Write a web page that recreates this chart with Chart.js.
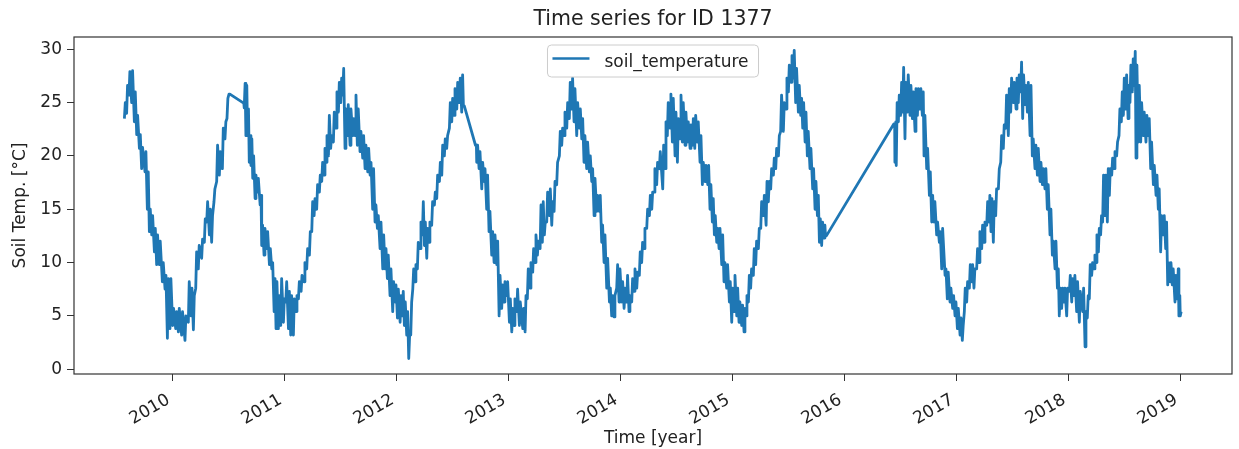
<!DOCTYPE html>
<html>
<head>
<meta charset="utf-8">
<title>Time series for ID 1377</title>
<script src="https://cdn.jsdelivr.net/npm/chart.js@4.4.1/dist/chart.umd.min.js"></script>
<style>
  html, body { margin: 0; padding: 0; background: #fff; }
</style>
</head>
<body>
<canvas id="soil" width="1239" height="449"></canvas>
<script>
// sample dates (decimal years) with the upper and lower edge of the noisy band
const sampleYears = [
  2009.570, 2009.590, 2009.611, 2009.635, 2009.659, 2009.680, 2009.704, 2009.724, 2009.754, 2009.775, 2009.793, 2009.814, 2009.838, 2009.858, 2009.882, 2009.909, 2009.933, 2009.954, 2009.977,
  2010.001, 2010.028, 2010.052, 2010.081, 2010.111, 2010.141, 2010.165, 2010.186, 2010.207, 2010.230, 2010.260, 2010.284, 2010.305, 2010.329, 2010.349, 2010.370, 2010.394, 2010.418, 2010.445, 2010.468, 2010.486, 2010.504,
  2010.628, 2010.640, 2010.655, 2010.670, 2010.685, 2010.700, 2010.716, 2010.737, 2010.758, 2010.782, 2010.796, 2010.817, 2010.841, 2010.865, 2010.886, 2010.907, 2010.924, 2010.945, 2010.966, 2010.990,
  2011.011, 2011.035, 2011.055, 2011.079, 2011.103, 2011.124, 2011.148, 2011.174, 2011.198, 2011.222, 2011.243, 2011.264, 2011.287, 2011.311, 2011.332, 2011.353, 2011.371, 2011.392, 2011.412, 2011.436, 2011.460, 2011.481, 2011.502,
  2011.520, 2011.540, 2011.561, 2011.585, 2011.609, 2011.630, 2011.650, 2011.674, 2011.698, 2011.719, 2011.743, 2011.764, 2011.787, 2011.808, 2011.829, 2011.853, 2011.877, 2011.898, 2011.918, 2011.942, 2011.966, 2011.987,
  2012.008, 2012.032, 2012.052, 2012.070, 2012.091, 2012.109, 2012.127, 2012.145, 2012.165, 2012.186, 2012.210, 2012.231, 2012.249, 2012.270, 2012.290, 2012.314, 2012.338, 2012.359, 2012.383, 2012.404, 2012.427, 2012.448,
  2012.472, 2012.493, 2012.514, 2012.538, 2012.561, 2012.582, 2012.597, 2012.705, 2012.716, 2012.737, 2012.761, 2012.782, 2012.805, 2012.826, 2012.850, 2012.871, 2012.895, 2012.916, 2012.939, 2012.960, 2012.984,
  2013.008, 2013.029, 2013.049, 2013.073, 2013.097, 2013.127, 2013.148, 2013.168, 2013.192, 2013.216, 2013.237, 2013.258, 2013.282, 2013.302, 2013.320, 2013.341, 2013.365, 2013.386, 2013.407, 2013.430, 2013.454, 2013.475,
  2013.496, 2013.520, 2013.543, 2013.564, 2013.585, 2013.609, 2013.633, 2013.654, 2013.674, 2013.698, 2013.722, 2013.743, 2013.764, 2013.787, 2013.811, 2013.832, 2013.853, 2013.877, 2013.901, 2013.921, 2013.942, 2013.966, 2013.987,
  2014.011, 2014.032, 2014.055, 2014.076, 2014.100, 2014.121, 2014.145, 2014.168, 2014.189, 2014.210, 2014.234, 2014.258, 2014.279, 2014.299, 2014.323, 2014.347, 2014.377, 2014.398, 2014.418, 2014.442, 2014.463, 2014.487,
  2014.508, 2014.532, 2014.552, 2014.576, 2014.597, 2014.621, 2014.642, 2014.663, 2014.686, 2014.710, 2014.731, 2014.755, 2014.779, 2014.799, 2014.820, 2014.838, 2014.859, 2014.880, 2014.904, 2014.924, 2014.948, 2014.972, 2014.993,
  2015.014, 2015.038, 2015.058, 2015.082, 2015.103, 2015.121, 2015.142, 2015.162, 2015.186, 2015.207, 2015.231, 2015.252, 2015.276, 2015.300, 2015.320, 2015.341, 2015.365, 2015.386, 2015.410, 2015.430,
  2015.454, 2015.478, 2015.499, 2015.523, 2015.543, 2015.564, 2015.588, 2015.609, 2015.627, 2015.648, 2015.668, 2015.692, 2015.716, 2015.737, 2015.758, 2015.776, 2015.796, 2015.817, 2015.830,
  2016.440, 2016.450, 2016.462, 2016.481, 2016.502, 2016.520, 2016.540, 2016.561, 2016.585, 2016.606, 2016.630, 2016.651, 2016.674, 2016.695, 2016.710,
  2016.734, 2016.758, 2016.779, 2016.799, 2016.823, 2016.847, 2016.868, 2016.898, 2016.918, 2016.942, 2016.966, 2016.987,
  2017.008, 2017.032, 2017.052, 2017.070, 2017.091, 2017.115, 2017.136, 2017.156, 2017.180, 2017.201, 2017.225, 2017.246, 2017.270, 2017.290, 2017.308, 2017.329, 2017.350, 2017.374, 2017.395, 2017.418, 2017.439, 2017.463, 2017.484,
  2017.508, 2017.532, 2017.552, 2017.573, 2017.591, 2017.612, 2017.633, 2017.657, 2017.677, 2017.701, 2017.722, 2017.746, 2017.767, 2017.790, 2017.811, 2017.835, 2017.856, 2017.880, 2017.901, 2017.918, 2017.939, 2017.960, 2017.984,
  2018.008, 2018.029, 2018.049, 2018.073, 2018.097, 2018.127, 2018.148, 2018.168, 2018.186, 2018.207, 2018.228, 2018.246, 2018.267, 2018.287, 2018.305, 2018.326, 2018.347, 2018.365, 2018.386, 2018.407, 2018.430, 2018.451, 2018.472, 2018.490,
  2018.511, 2018.532, 2018.549, 2018.570, 2018.588, 2018.603, 2018.624, 2018.645, 2018.668, 2018.692, 2018.713, 2018.734, 2018.758, 2018.782, 2018.802, 2018.823, 2018.847, 2018.868, 2018.886, 2018.907, 2018.927, 2018.951, 2018.972, 2018.986, 2018.998
];

const bandHigh = [
  25.0, 26.6, 27.9, 28.0, 26.0, 23.8, 22.0, 20.8, 20.4, 18.5, 15.0, 14.4, 13.2, 12.6, 12.0, 10.0, 8.8, 8.5, 8.5,
  5.7, 5.4, 5.7, 5.4, 5.0, 8.2, 7.6, 6.9, 11.0, 11.6, 12.2, 14.1, 15.7, 15.0, 14.4, 16.9, 21.0, 20.4, 22.6, 23.2, 25.4, 25.8,
  25.0, 26.8, 26.6, 24.4, 21.9, 21.6, 20.0, 18.2, 17.9, 16.3, 13.5, 13.2, 12.9, 11.3, 10.0, 8.5, 8.2, 6.9, 8.5, 6.6,
  8.2, 7.3, 6.9, 6.6, 6.9, 8.2, 8.8, 10.0, 11.3, 12.9, 15.7, 16.0, 17.3, 18.2, 19.4, 20.7, 21.9, 23.8, 21.9, 24.1, 26.0, 26.9, 27.3,
  28.2, 24.4, 24.8, 24.4, 23.5, 25.7, 24.4, 22.3, 21.9, 21.0, 20.7, 19.4, 18.8, 15.4, 14.4, 13.8, 12.6, 11.3, 10.7, 9.4, 8.2, 7.9,
  7.5, 6.9, 7.3, 6.3, 5.4, 3.2, 6.3, 9.4, 9.8, 11.9, 13.8, 15.7, 13.8, 13.2, 13.8, 15.7, 16.6, 18.2, 19.4, 21.0, 21.6, 21.9,
  25.0, 25.4, 26.3, 26.9, 27.3, 27.6, 24.7, 21.0, 21.0, 20.4, 19.4, 18.8, 18.2, 14.8, 12.9, 12.6, 12.0, 8.8, 7.9, 8.2, 8.2,
  6.6, 5.7, 6.6, 7.5, 6.3, 5.7, 6.9, 9.4, 10.0, 11.3, 12.6, 12.0, 15.4, 15.7, 13.8, 16.6, 16.9, 15.7, 17.6, 19.4, 22.3, 22.6,
  24.1, 25.0, 26.9, 27.3, 26.3, 25.0, 24.4, 23.5, 21.9, 21.3, 20.0, 18.8, 17.9, 16.3, 16.3, 13.5, 12.6, 10.4, 7.6, 6.9, 6.9, 9.8, 9.4,
  8.2, 7.6, 8.8, 6.9, 8.5, 9.4, 9.1, 11.0, 11.9, 13.2, 15.0, 16.3, 16.6, 18.8, 19.4, 20.4, 21.0, 23.2, 25.0, 25.8, 25.4, 24.1,
  23.5, 25.7, 25.0, 24.1, 23.2, 22.9, 23.5, 23.8, 23.2, 21.9, 19.4, 19.1, 19.1, 17.3, 16.0, 14.4, 13.2, 13.2, 12.6, 10.0, 9.8, 8.2, 7.6,
  8.8, 7.6, 6.3, 6.0, 5.7, 6.9, 8.8, 9.4, 11.3, 12.0, 13.2, 15.7, 16.3, 17.6, 17.6, 18.8, 19.8, 20.7, 21.9, 25.7,
  25.0, 27.3, 28.5, 29.4, 29.9, 28.2, 26.6, 25.4, 25.0, 24.1, 22.3, 20.7, 18.8, 17.6, 16.3, 14.1, 13.8, 13.5, 12.5,
  23.0, 23.2, 25.0, 25.7, 26.9, 28.3, 26.9, 27.6, 26.6, 26.0, 26.3, 26.3, 26.3, 26.0, 23.8,
  20.7, 18.5, 16.3, 15.7, 13.8, 12.9, 13.2, 9.4, 9.1, 7.6, 6.9, 6.3,
  5.7, 4.8, 4.1, 7.6, 8.2, 9.8, 9.8, 9.4, 11.3, 12.9, 13.5, 13.8, 15.7, 16.3, 16.0, 15.7, 16.9, 18.8, 21.9, 22.9, 25.7, 26.3, 27.3,
  26.9, 27.3, 27.6, 28.8, 27.6, 26.6, 26.9, 26.6, 21.6, 21.0, 20.7, 19.4, 18.8, 18.8, 17.3, 15.0, 12.0, 12.0, 9.4, 7.6, 7.6, 7.6, 7.6,
  8.8, 8.5, 8.8, 8.2, 7.3, 7.6, 5.4, 6.9, 9.8, 10.0, 10.7, 12.6, 13.2, 14.4, 18.2, 18.2, 18.8, 18.8, 19.8, 20.4, 21.3, 24.4, 26.0, 27.3,
  27.6, 26.6, 28.5, 29.1, 29.8, 28.5, 26.6, 25.0, 24.1, 23.8, 23.5, 21.3, 19.1, 18.2, 16.9, 14.4, 14.4, 13.8, 10.0, 10.0, 9.4, 8.8, 9.4, 6.9, 5.4
];

const bandLow = [
  23.5, 24.0, 25.7, 25.0, 23.2, 22.0, 20.7, 18.8, 18.5, 15.0, 12.9, 12.6, 11.0, 9.8, 9.8, 8.2, 7.5, 2.9, 3.8,
  4.1, 3.8, 3.5, 3.2, 2.7, 4.4, 5.0, 3.7, 7.6, 9.4, 10.4, 11.9, 13.8, 12.6, 11.9, 15.7, 17.6, 18.2, 18.8, 21.6, 23.5, 25.8,
  25.0, 24.5, 21.9, 21.9, 19.4, 19.1, 17.9, 16.0, 16.6, 15.4, 11.6, 10.7, 11.3, 9.8, 9.4, 5.4, 3.8, 3.8, 4.1, 4.4,
  6.3, 3.8, 3.2, 3.2, 5.4, 6.6, 7.3, 8.2, 9.4, 10.7, 12.9, 14.4, 15.0, 16.6, 17.6, 18.2, 19.4, 20.0, 20.7, 21.3, 22.6, 24.1, 25.0,
  25.7, 20.7, 21.9, 21.0, 21.9, 21.9, 21.0, 20.4, 19.8, 18.8, 18.5, 18.2, 15.0, 13.8, 13.2, 11.3, 9.4, 9.4, 8.5, 6.9, 5.4, 6.3,
  4.8, 4.4, 5.0, 4.1, 3.2, 1.0, 3.2, 7.5, 8.2, 9.4, 11.3, 12.6, 11.6, 10.4, 11.9, 13.5, 15.4, 16.0, 17.6, 18.2, 20.0, 20.7,
  22.6, 23.2, 23.8, 24.4, 25.0, 24.1, 24.7, 21.0, 19.4, 18.8, 16.9, 17.6, 15.0, 12.9, 10.7, 10.0, 9.8, 5.0, 5.7, 6.3, 6.9,
  4.4, 3.5, 4.1, 5.4, 4.1, 3.8, 3.5, 6.6, 7.6, 9.1, 10.0, 10.7, 11.3, 11.9, 12.6, 13.8, 14.4, 13.5, 14.8, 17.3, 20.0, 21.0,
  21.9, 22.6, 23.5, 24.4, 23.2, 21.9, 22.6, 21.6, 19.4, 18.8, 18.5, 17.6, 14.4, 14.8, 14.8, 11.9, 10.0, 7.6, 6.3, 5.0, 4.9, 7.6, 6.3,
  6.3, 5.7, 6.3, 5.4, 6.3, 7.3, 7.6, 8.8, 10.0, 11.3, 13.2, 14.4, 15.0, 16.6, 17.3, 18.8, 16.9, 18.8, 21.9, 22.6, 21.3, 20.0,
  19.4, 21.6, 21.3, 21.0, 21.3, 20.7, 21.0, 20.7, 21.3, 19.4, 17.3, 17.6, 17.3, 15.0, 13.8, 12.6, 11.9, 11.3, 9.8, 8.2, 7.6, 6.3, 4.4,
  5.4, 5.0, 4.4, 4.1, 3.5, 5.0, 6.3, 7.6, 8.8, 9.8, 11.3, 13.2, 14.4, 13.5, 15.7, 16.9, 18.2, 18.8, 20.0, 22.3,
  22.3, 24.4, 26.0, 26.9, 27.3, 25.0, 24.1, 23.8, 22.6, 21.3, 20.0, 18.8, 16.9, 15.0, 14.4, 11.9, 11.6, 12.3, 12.5,
  23.0, 19.4, 19.1, 23.2, 23.8, 24.1, 21.6, 24.1, 23.8, 23.5, 22.3, 23.8, 24.4, 23.8, 20.0,
  18.8, 16.3, 13.8, 13.8, 12.6, 11.9, 9.4, 8.8, 6.6, 6.3, 5.7, 5.0,
  3.8, 3.2, 2.7, 5.4, 6.3, 7.6, 8.2, 7.6, 9.4, 10.0, 11.3, 11.9, 13.5, 13.8, 12.9, 11.9, 14.4, 16.9, 19.4, 20.7, 22.6, 21.9, 24.1,
  25.0, 24.4, 25.0, 26.0, 23.5, 24.8, 24.1, 21.9, 20.0, 18.8, 18.2, 17.6, 17.3, 16.9, 15.0, 12.6, 10.7, 9.4, 7.6, 5.0, 5.7, 6.3, 5.0,
  7.3, 6.3, 6.9, 5.4, 4.4, 5.4, 2.1, 4.8, 6.6, 8.8, 9.4, 10.0, 11.0, 12.6, 13.8, 14.4, 13.8, 16.3, 18.2, 18.8, 20.0, 21.9, 23.2, 23.8,
  24.4, 23.5, 25.0, 26.0, 26.6, 19.8, 21.3, 21.3, 21.9, 21.3, 21.9, 18.8, 17.3, 16.3, 15.0, 11.0, 12.6, 11.3, 7.9, 8.2, 7.9, 6.3, 6.6, 5.0, 5.0
];

const yearTicks = [2010, 2011, 2012, 2013, 2014, 2015, 2016, 2017, 2018, 2019];
const tempTicks = [0, 5, 10, 15, 20, 25, 30];

// each sample becomes a low then a high vertex, which gives the dense zig-zag band
const linePoints = [];
sampleYears.forEach((t, i) => {
  linePoints.push({ x: t, y: bandLow[i] });
  linePoints.push({ x: t + 0.008, y: bandHigh[i] });
});

Chart.defaults.font.family = "'DejaVu Sans', sans-serif";
Chart.defaults.color = '#222';

const frameAndLegend = {
  id: 'frameAndLegend',
  afterDraw(chart) {
    const { ctx, chartArea } = chart;
    const { left, top, right, bottom } = chartArea;
    ctx.save();
    ctx.strokeStyle = '#333';
    ctx.lineWidth = 1.2;
    ctx.strokeRect(left, top, right - left, bottom - top);

    const ds = chart.data.datasets[0];
    ctx.font = "17px 'DejaVu Sans'";
    const textW = ctx.measureText(ds.label).width;
    const boxW = 5 + 37 + 15 + textW + 10;
    const boxH = 32;
    const boxX = (left + right) / 2 - boxW / 2;
    const boxY = top + 8;
    ctx.beginPath();
    ctx.roundRect(boxX, boxY, boxW, boxH, 4);
    ctx.fillStyle = 'rgba(255,255,255,0.8)';
    ctx.fill();
    ctx.strokeStyle = '#cccccc';
    ctx.lineWidth = 1;
    ctx.stroke();

    ctx.beginPath();
    ctx.moveTo(boxX + 5, boxY + 13.5);
    ctx.lineTo(boxX + 42, boxY + 13.5);
    ctx.strokeStyle = ds.borderColor;
    ctx.lineWidth = 2.4;
    ctx.stroke();

    ctx.fillStyle = '#222';
    ctx.textBaseline = 'alphabetic';
    ctx.textAlign = 'left';
    ctx.fillText(ds.label, boxX + 57, boxY + 21.7);
    ctx.restore();
  }
};

new Chart(document.getElementById('soil'), {
  type: 'line',
  data: {
    datasets: [{
      label: 'soil_temperature',
      data: linePoints,
      borderColor: '#1f77b4',
      borderWidth: 2.8,
      borderJoinStyle: 'round',
      pointRadius: 0,
      tension: 0,
      fill: false
    }]
  },
  options: {
    responsive: false,
    animation: false,
    parsing: false,
    layout: { padding: { left: 0, right: 7, top: 0, bottom: 0 } },
    plugins: {
      legend: { display: false },
      tooltip: { enabled: false },
      title: {
        display: true,
        text: 'Time series for ID 1377',
        fullSize: false,
        color: '#222',
        font: { size: 20.5, weight: 'normal' },
        padding: { top: 7, bottom: 5.4 }
      }
    },
    scales: {
      x: {
        type: 'linear',
        min: 2009.12,
        max: 2019.46,
        afterBuildTicks: (scale) => { scale.ticks = yearTicks.map(v => ({ value: v })); },
        afterFit: (scale) => { scale.height = 75; },
        grid: { display: true, drawOnChartArea: false, drawTicks: true, tickLength: 7, color: '#333', lineWidth: 1 },
        border: { display: false },
        ticks: {
          autoSkip: false,
          minRotation: 30,
          maxRotation: 30,
          padding: 9,
          labelOffset: -4,
          font: { size: 17 },
          callback: (v) => String(v)
        },
        title: { display: true, text: 'Time [year]', font: { size: 17 }, padding: { top: 0, bottom: 0 } }
      },
      y: {
        min: -0.45,
        max: 31.15,
        afterBuildTicks: (scale) => { scale.ticks = tempTicks.map(v => ({ value: v })); },
        afterFit: (scale) => { scale.width = 74; },
        grid: { display: true, drawOnChartArea: false, drawTicks: true, tickLength: 7, color: '#333', lineWidth: 1 },
        border: { display: false },
        ticks: { padding: 5, font: { size: 17 }, callback: (v) => String(v) },
        title: { display: true, text: 'Soil Temp. [°C]', font: { size: 17 }, padding: { top: 10, bottom: 0 } }
      }
    }
  },
  plugins: [frameAndLegend]
});
</script>
</body>
</html>
